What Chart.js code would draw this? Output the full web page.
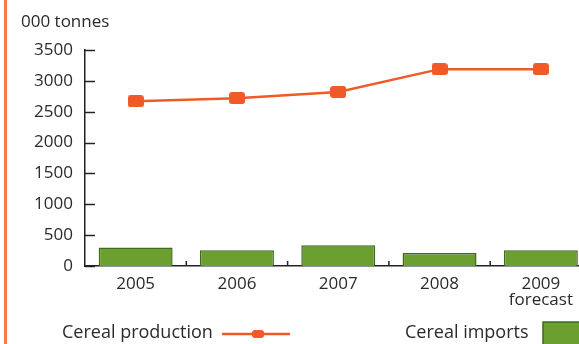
<!DOCTYPE html>
<html>
<head>
<meta charset="utf-8">
<script src="https://cdn.jsdelivr.net/npm/chart.js@4/dist/chart.umd.min.js"></script>
<style>
  html, body { margin: 0; padding: 0; background: #fff; overflow: hidden; }
  #wrap { position: relative; width: 579px; height: 344px; overflow: hidden; }
  #edge { position: absolute; left: 4px; top: 0; width: 3px; height: 344px; background: #f47d4d; }
  canvas { position: absolute; left: 0; top: 0; }
</style>
</head>
<body>
<div id="wrap">
  <canvas id="chart" width="600" height="344"></canvas>
  <div id="edge"></div>
</div>
<script>
const years = ['2005', '2006', '2007', '2008', ['2009', 'forecast']];
const productionValues = [2670, 2720, 2820, 3190, 3190];
const importValues = [300, 255, 335, 210, 255];
const yMin = 0, yMax = 3500, yStep = 500;
const unitLabel = '000 tonnes';

const lineColor = '#f05a28';
const barFill = '#6b9f2f';
const barEdge = '#3f6a1c';
const textColor = '#2a2a2a';
const fontFamily = 'Open Sans';
const fontSize = 17;

// rounded orange marker used on the production line
function makeMarker(w, h) {
    const c = document.createElement('canvas');
    c.width = w; c.height = h;
    const g = c.getContext('2d');
    g.fillStyle = lineColor;
    g.beginPath();
    g.roundRect(0, 0, w, h, 3);
    g.fill();
    return c;
}
const marker = makeMarker(16, 12);
const smallMarker = makeMarker(12, 8);

// inward tick marks on the value axis and short dividers on the category axis
const tickMarks = {
    id: 'tickMarks',
    afterDraw(chart) {
        const ctx = chart.ctx;
        const area = chart.chartArea;
        const x = chart.scales.x, y = chart.scales.y;
        ctx.save();
        ctx.strokeStyle = '#222';
        ctx.lineWidth = 1.5;
        y.ticks.forEach(t => {
            const py = Math.round(y.getPixelForValue(t.value)) + 0.5;
            ctx.beginPath();
            ctx.moveTo(area.left, py);
            ctx.lineTo(area.left + 10, py);
            ctx.stroke();
        });
        for (let i = 0; i < years.length - 1; i++) {
            const px = (x.getPixelForValue(i) + x.getPixelForValue(i + 1)) / 2;
            ctx.beginPath();
            ctx.moveTo(px, area.bottom);
            ctx.lineTo(px, area.bottom - 5);
            ctx.stroke();
        }
        ctx.restore();
    }
};

// unit caption and the legend along the bottom
const captions = {
    id: 'captions',
    afterDraw(chart) {
        const ctx = chart.ctx;
        const sets = chart.data.datasets;
        ctx.save();
        ctx.fillStyle = textColor;
        ctx.textBaseline = 'middle';
        ctx.font = fontSize + 'px "' + fontFamily + '"';
        ctx.fillText(unitLabel, 21, 22);

        ctx.font = (fontSize + 1) + 'px "' + fontFamily + '"';
        ctx.fillText(sets[0].label, 62, 333);
        ctx.strokeStyle = lineColor;
        ctx.lineWidth = 2.5;
        ctx.beginPath();
        ctx.moveTo(222, 334);
        ctx.lineTo(290, 334);
        ctx.stroke();
        ctx.drawImage(smallMarker, 258 - 6, 334 - 4);

        ctx.fillText(sets[1].label, 405, 333);
        ctx.fillStyle = barFill;
        ctx.strokeStyle = barEdge;
        ctx.lineWidth = 1.5;
        ctx.fillRect(543, 322, 50, 24);
        ctx.strokeRect(543, 322, 50, 24);
        ctx.restore();
    }
};

const tickFont = { family: fontFamily, size: fontSize, lineHeight: 0.95 };

new Chart(document.getElementById('chart'), {
    type: 'bar',
    data: {
        labels: years,
        datasets: [
            {
                type: 'line',
                label: 'Cereal production',
                data: productionValues,
                borderColor: lineColor,
                borderWidth: 2.5,
                pointStyle: marker,
                pointRadius: 6,
                order: 0
            },
            {
                type: 'bar',
                label: 'Cereal imports',
                data: importValues,
                backgroundColor: barFill,
                borderColor: barEdge,
                borderWidth: 1.5,
                barPercentage: 0.73,
                categoryPercentage: 1,
                order: 1
            }
        ]
    },
    options: {
        responsive: false,
        animation: false,
        layout: { padding: { top: 50, right: 7, bottom: 0, left: 0 } },
        plugins: { legend: { display: false }, tooltip: { enabled: false } },
        scales: {
            x: {
                grid: { display: false, drawTicks: false },
                border: { color: '#222', width: 1.5 },
                ticks: { color: textColor, font: tickFont, padding: 10, maxRotation: 0, autoSkip: false },
                afterFit(s) { s.height = 78; }
            },
            y: {
                min: yMin,
                max: yMax,
                grid: { display: false, drawTicks: false },
                border: { color: '#222', width: 1.5 },
                ticks: {
                    stepSize: yStep,
                    color: textColor,
                    font: tickFont,
                    padding: 12,
                    callback: v => String(v)
                },
                afterFit(s) { s.width = 85; }
            }
        }
    },
    plugins: [tickMarks, captions]
});
</script>
</body>
</html>
